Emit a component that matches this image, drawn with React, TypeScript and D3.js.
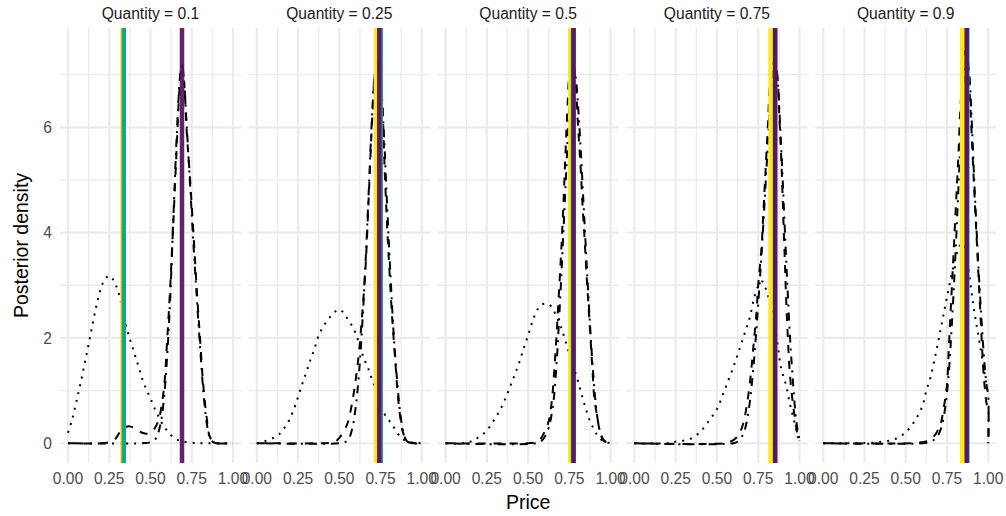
import React from "react";
import * as d3 from "d3";

type Pt = [number, number];

const quantities = ["0.1", "0.25", "0.5", "0.75", "0.9"];
const xTicks = [0, 0.25, 0.5, 0.75, 1];
const xMinor = [0.125, 0.375, 0.625, 0.875];
const yTicks = [0, 2, 4, 6];
const yMinor = [1, 3, 5, 7];
const yDataMax = 7.51;

// Panel 1 (Quantity = 0.1)
const dotted1: Pt[] = [[0,0.2],[0.025,0.45],[0.05,0.78],[0.075,1.12],[0.1,1.5],[0.125,1.88],[0.15,2.28],[0.175,2.65],[0.2,2.95],[0.225,3.12],[0.25,3.18],[0.275,3.1],[0.3,2.92],[0.325,2.62],[0.35,2.25],[0.375,1.98],[0.4,1.73],[0.425,1.48],[0.45,1.22],[0.475,1.02],[0.5,0.85],[0.525,0.66],[0.55,0.5],[0.575,0.35],[0.6,0.24],[0.625,0.15],[0.65,0.09],[0.675,0.05],[0.7,0.03],[0.75,0.01],[0.8,0],[1,0]];
const dashed1: Pt[] = [[0,0],[0.2,0],[0.25,0.02],[0.28,0.06],[0.3,0.14],[0.325,0.26],[0.35,0.31],[0.375,0.32],[0.4,0.29],[0.425,0.24],[0.45,0.2],[0.475,0.18],[0.5,0.2],[0.525,0.28],[0.55,0.45],[0.58,1.0],[0.6,1.9],[0.62,3.0],[0.64,4.3],[0.66,5.7],[0.675,6.7],[0.69,7.2],[0.705,6.8],[0.72,5.9],[0.74,5.0],[0.76,4.0],[0.78,2.95],[0.8,2.0],[0.82,1.1],[0.84,0.5],[0.86,0.12],[0.88,0.03],[0.9,0],[1,0]];
const dotdash1: Pt[] = [[0,0],[0.45,0],[0.5,0.02],[0.53,0.08],[0.56,0.35],[0.58,0.8],[0.6,1.6],[0.62,2.8],[0.64,4.4],[0.66,5.9],[0.68,7.0],[0.69,7.2],[0.7,7.0],[0.72,6.0],[0.74,4.9],[0.76,3.8],[0.78,2.8],[0.8,1.85],[0.82,1.0],[0.84,0.4],[0.86,0.1],[0.88,0.02],[0.9,0],[1,0]];

// Panel 2 (Quantity = 0.25)
const dotted2: Pt[] = [[0,0],[0.025,0.01],[0.05,0.04],[0.075,0.07],[0.1,0.1],[0.125,0.15],[0.15,0.21],[0.175,0.33],[0.2,0.46],[0.225,0.65],[0.25,0.88],[0.275,1.12],[0.3,1.35],[0.325,1.58],[0.35,1.8],[0.375,2.05],[0.4,2.2],[0.425,2.32],[0.45,2.42],[0.475,2.5],[0.5,2.54],[0.525,2.48],[0.55,2.36],[0.575,2.24],[0.6,2.08],[0.625,1.85],[0.65,1.6],[0.675,1.42],[0.7,1.2],[0.725,0.98],[0.75,0.76],[0.775,0.55],[0.8,0.44],[0.825,0.33],[0.85,0.2],[0.875,0.11],[0.9,0.05],[0.95,0.01],[1,0]];
const dashed2: Pt[] = [[0,0],[0.4,0],[0.45,0.01],[0.48,0.04],[0.5,0.1],[0.525,0.22],[0.55,0.38],[0.575,0.72],[0.6,1.22],[0.62,1.75],[0.64,2.5],[0.66,3.4],[0.68,4.8],[0.7,6.2],[0.715,7.0],[0.73,7.25],[0.745,7.1],[0.76,6.5],[0.775,5.2],[0.79,4.1],[0.8,3.5],[0.82,2.4],[0.835,1.75],[0.85,1.1],[0.865,0.6],[0.885,0.22],[0.905,0.06],[0.93,0.01],[1,0]];
const dotdash2: Pt[] = [[0,0],[0.5,0],[0.54,0.03],[0.56,0.1],[0.58,0.3],[0.6,0.7],[0.62,1.35],[0.64,2.3],[0.66,3.5],[0.68,4.9],[0.7,6.3],[0.72,7.1],[0.735,7.2],[0.75,6.9],[0.77,5.9],[0.79,4.5],[0.81,3.2],[0.83,2.05],[0.85,1.2],[0.87,0.55],[0.89,0.18],[0.91,0.04],[0.94,0],[1,0]];

// Panel 3 (Quantity = 0.5)
const dotted3: Pt[] = [[0,0],[0.1,0],[0.15,0.03],[0.175,0.06],[0.2,0.12],[0.225,0.17],[0.25,0.24],[0.275,0.35],[0.3,0.47],[0.325,0.6],[0.35,0.76],[0.375,0.95],[0.4,1.15],[0.425,1.35],[0.45,1.57],[0.475,1.82],[0.5,2.05],[0.525,2.3],[0.55,2.5],[0.575,2.62],[0.6,2.65],[0.625,2.64],[0.65,2.55],[0.675,2.38],[0.7,2.2],[0.725,1.95],[0.75,1.7],[0.775,1.45],[0.8,1.2],[0.825,0.92],[0.85,0.65],[0.875,0.42],[0.9,0.26],[0.925,0.13],[0.95,0.05],[0.975,0.02],[1,0]];
const dashed3: Pt[] = [[0,0],[0.5,0],[0.55,0.02],[0.575,0.08],[0.6,0.22],[0.625,0.42],[0.645,0.85],[0.66,1.45],[0.675,2.2],[0.69,3.05],[0.7,3.62],[0.71,4.26],[0.72,5.0],[0.73,5.78],[0.74,6.47],[0.75,7.0],[0.765,7.2],[0.78,7.05],[0.79,6.8],[0.8,6.16],[0.81,5.65],[0.82,5.14],[0.83,4.5],[0.84,4.0],[0.85,3.43],[0.86,2.9],[0.87,2.4],[0.88,1.9],[0.89,1.4],[0.9,0.9],[0.92,0.48],[0.94,0.16],[0.96,0.04],[0.98,0.02],[1,0]];
const dotdash3: Pt[] = [[0,0],[0.55,0],[0.58,0.04],[0.6,0.12],[0.625,0.3],[0.65,0.7],[0.67,1.4],[0.685,2.2],[0.7,3.1],[0.715,4.1],[0.73,5.1],[0.745,6.1],[0.76,6.9],[0.775,7.15],[0.79,6.9],[0.805,6.3],[0.82,5.5],[0.835,4.6],[0.85,3.7],[0.865,2.8],[0.88,2.0],[0.895,1.3],[0.91,0.75],[0.93,0.3],[0.95,0.1],[0.97,0.03],[0.99,0.04],[1,0.02]];

// Panel 4 (Quantity = 0.75)
const dotted4: Pt[] = [[0,0],[0.2,0],[0.25,0.03],[0.3,0.05],[0.35,0.1],[0.4,0.22],[0.45,0.42],[0.5,0.65],[0.55,1.04],[0.6,1.45],[0.625,1.68],[0.65,1.92],[0.675,2.15],[0.7,2.4],[0.725,2.75],[0.75,2.98],[0.775,3.07],[0.8,2.9],[0.825,2.62],[0.85,2.25],[0.87,1.82],[0.89,1.41],[0.92,1.09],[0.94,0.78],[0.96,0.52],[0.98,0.27],[0.99,0.12],[1,0.05]];
const dashed4: Pt[] = [[0,0],[0.55,0],[0.58,0.03],[0.6,0.06],[0.63,0.15],[0.66,0.38],[0.68,0.7],[0.7,1.15],[0.72,1.8],[0.74,2.5],[0.75,3.0],[0.77,3.7],[0.78,4.3],[0.79,4.9],[0.8,5.5],[0.81,6.1],[0.82,6.8],[0.835,7.2],[0.85,7.25],[0.865,7.0],[0.88,6.1],[0.89,5.4],[0.9,4.5],[0.91,3.6],[0.92,2.7],[0.93,2.0],[0.94,1.4],[0.96,0.76],[0.98,0.32],[0.99,0.13],[1,0.05]];
const dotdash4: Pt[] = [[0,0],[0.6,0],[0.63,0.04],[0.66,0.18],[0.68,0.4],[0.7,0.8],[0.72,1.4],[0.74,2.2],[0.76,3.1],[0.78,4.1],[0.8,5.2],[0.82,6.3],[0.84,7.05],[0.855,7.2],[0.87,6.8],[0.885,5.9],[0.9,4.9],[0.915,3.8],[0.93,2.8],[0.945,1.9],[0.96,1.2],[0.975,0.6],[0.99,0.22],[1,0.08]];

// Panel 5 (Quantity = 0.9)
const dotted5: Pt[] = [[0,0],[0.2,0],[0.3,0.01],[0.35,0.03],[0.4,0.05],[0.45,0.1],[0.5,0.21],[0.55,0.4],[0.6,0.7],[0.625,1.0],[0.65,1.25],[0.675,1.6],[0.7,1.98],[0.72,2.3],[0.74,2.62],[0.76,2.93],[0.78,3.24],[0.8,3.5],[0.82,3.7],[0.845,3.8],[0.87,3.55],[0.89,3.08],[0.91,2.61],[0.93,2.23],[0.95,1.85],[0.97,1.47],[0.99,1.09],[1,0.9]];
const dashed5: Pt[] = [[0,0],[0.55,0],[0.6,0.02],[0.64,0.05],[0.67,0.13],[0.69,0.22],[0.71,0.35],[0.73,0.67],[0.75,1.11],[0.76,1.74],[0.77,2.38],[0.78,3.0],[0.79,3.62],[0.8,4.26],[0.81,4.89],[0.82,5.53],[0.83,6.3],[0.845,7.0],[0.86,7.45],[0.875,7.3],[0.89,6.47],[0.9,5.84],[0.91,5.14],[0.92,4.5],[0.93,3.87],[0.94,3.24],[0.95,2.61],[0.96,1.98],[0.97,1.4],[0.98,1.02],[0.99,0.75],[1,0.65],[1,0]];
const dotdash5: Pt[] = [[0,0],[0.6,0],[0.65,0.03],[0.69,0.12],[0.72,0.35],[0.74,0.7],[0.76,1.3],[0.78,2.3],[0.8,3.5],[0.82,4.9],[0.84,6.3],[0.855,7.1],[0.87,7.3],[0.885,7.0],[0.9,6.1],[0.915,5.0],[0.93,4.0],[0.945,3.1],[0.96,2.3],[0.975,1.6],[0.99,1.1],[1,0.9],[1,0]];

const dottedCurves = [dotted1, dotted2, dotted3, dotted4, dotted5];
const dashedCurves = [dashed1, dashed2, dashed3, dashed4, dashed5];
const dotdashCurves = [dotdash1, dotdash2, dotdash3, dotdash4, dotdash5];

// Reference lines per panel
const vYellow = [0.33, 0.722, 0.756, 0.825, 0.842];
const vTeal = [0.338, 0.751, 0.772, 0.852, 0.873];
const vPurple = [0.691, 0.742, 0.776, 0.853, 0.869];

const W = 1006;
const H = 516;
const plotLeft = 59.75;
const plotRight = 996.5;
const gap = 7.33;
const panelTop = 28;
const panelBottom = 463;
const nPanels = quantities.length;
const panelW = (plotRight - plotLeft - gap * (nPanels - 1)) / nPanels;

const FONT = "'Liberation Sans', Arial, Helvetica, sans-serif";

export default function App() {
  const y = d3
    .scaleLinear()
    .domain([-0.05 * yDataMax, 1.05 * yDataMax])
    .range([panelBottom, panelTop]);
  const fmtX = d3.format(".2f");

  const panels = quantities.map((q, i) => {
    const left = plotLeft + i * (panelW + gap);
    const x = d3.scaleLinear().domain([-0.05, 1.05]).range([left, left + panelW]);
    const line = d3
      .line<Pt>()
      .x((d) => x(d[0]))
      .y((d) => y(d[1]))
      .curve(d3.curveCatmullRom.alpha(0.5));
    return { q, i, left, x, line };
  });

  return (
    <svg width={W} height={H} style={{ display: "block", position: "absolute", left: 0, top: 0 }} fontFamily={FONT}>
      <rect x={0} y={0} width={W} height={H} fill="#ffffff" />
      <defs>
        {panels.map((p) => (
          <clipPath id={`clip${p.i}`} key={p.i}>
            <rect x={p.left} y={panelTop} width={panelW} height={panelBottom - panelTop} />
          </clipPath>
        ))}
      </defs>
      {panels.map((p) => (
        <g key={p.i}>
          {/* grid */}
          {yMinor.map((v) => (
            <line key={`ym${v}`} x1={p.left} x2={p.left + panelW} y1={y(v)} y2={y(v)} stroke="#EBEBEB" strokeWidth={1.3} />
          ))}
          {xMinor.map((v) => (
            <line key={`xm${v}`} x1={p.x(v)} x2={p.x(v)} y1={panelTop} y2={panelBottom} stroke="#EBEBEB" strokeWidth={1.3} />
          ))}
          {yTicks.map((v) => (
            <line key={`yM${v}`} x1={p.left} x2={p.left + panelW} y1={y(v)} y2={y(v)} stroke="#EBEBEB" strokeWidth={2.2} />
          ))}
          {xTicks.map((v) => (
            <line key={`xM${v}`} x1={p.x(v)} x2={p.x(v)} y1={panelTop} y2={panelBottom} stroke="#EBEBEB" strokeWidth={2.2} />
          ))}
          {/* densities */}
          <g clipPath={`url(#clip${p.i})`} fill="none" stroke="#000000" strokeWidth={2}>
            <path d={p.line(dottedCurves[p.i]) || ""} strokeDasharray="2 6" />
            <path d={p.line(dashedCurves[p.i]) || ""} strokeDasharray="8 8" />
            <path d={p.line(dotdashCurves[p.i]) || ""} strokeDasharray="2 6 8 6" />
          </g>
          {/* reference lines */}
          <g clipPath={`url(#clip${p.i})`}>
            <line x1={p.x(vYellow[p.i])} x2={p.x(vYellow[p.i])} y1={panelTop} y2={panelBottom} stroke="#FDE725" strokeWidth={4.5} />
            <line x1={p.x(vTeal[p.i])} x2={p.x(vTeal[p.i])} y1={panelTop} y2={panelBottom} stroke="#1FA188" strokeWidth={4.5} />
            <line x1={p.x(vPurple[p.i])} x2={p.x(vPurple[p.i])} y1={panelTop} y2={panelBottom} stroke="#5C0F60" strokeOpacity={0.93} strokeWidth={4.5} />
          </g>
          {/* strip */}
          <text x={p.left + panelW / 2} y={19} textAnchor="middle" fontSize={15.6} fill="#1A1A1A">
            {`Quantity = ${p.q}`}
          </text>
          {/* x tick labels */}
          {xTicks.map((v) => (
            <text key={`xl${v}`} x={p.x(v)} y={484} textAnchor="middle" fontSize={15.6} fill="#4D4D4D">
              {fmtX(v)}
            </text>
          ))}
        </g>
      ))}
      {/* y tick labels */}
      {yTicks.map((v) => (
        <text key={`yl${v}`} x={52} y={y(v) + 5.6} textAnchor="end" fontSize={15.6} fill="#4D4D4D">
          {String(v)}
        </text>
      ))}
      {/* axis titles */}
      <text x={(plotLeft + plotRight) / 2} y={509} textAnchor="middle" fontSize={19.5} fill="#000000">
        Price
      </text>
      <text
        transform={`translate(28, ${(panelTop + panelBottom) / 2}) rotate(-90)`}
        textAnchor="middle"
        fontSize={19.5}
        fill="#000000"
      >
        Posterior density
      </text>
    </svg>
  );
}
